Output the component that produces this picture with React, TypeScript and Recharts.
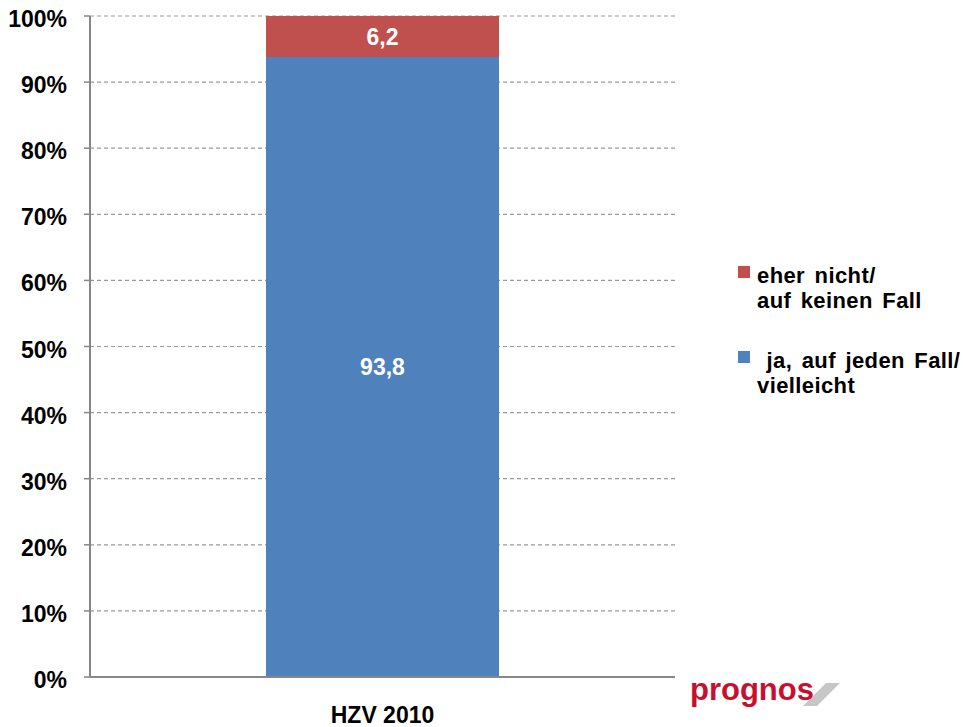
import React from "react";
import { BarChart, Bar, XAxis, YAxis, CartesianGrid, LabelList, Legend } from "recharts";

const categories = ["HZV 2010"];
const jaValues = [93.8];
const neinValues = [6.2];
const yTicks = [0, 10, 20, 30, 40, 50, 60, 70, 80, 90, 100];

const seriesNames = {
  nein: ["eher nicht/", "auf keinen Fall"],
  ja: [" ja, auf jeden Fall/", "vielleicht"],
};

const BLUE = "#4F81BD";
const RED = "#C0504D";
const FONT = "'Liberation Sans', Arial, sans-serif";

const data = categories.map((c, i) => ({ name: c, ja: jaValues[i], nein: neinValues[i] }));

const fmt = (v: any) => String(v).replace(".", ",");

const YTick = (props: any) => {
  const { x, y, payload } = props;
  return (
    <text x={x} y={y} dy={11} textAnchor="end" fontFamily={FONT} fontWeight="bold" fontSize={23} fill="#000">
      {payload.value}%
    </text>
  );
};

const XTick = (props: any) => {
  const { x, y, payload } = props;
  return (
    <text x={x} y={y} dy={46} textAnchor="middle" fontFamily={FONT} fontWeight="bold" fontSize={23} fill="#000">
      {payload.value}
    </text>
  );
};

const legendItems = [
  { color: RED, lines: seriesNames.nein },
  { color: BLUE, lines: seriesNames.ja },
];

const LegendBox = () => (
  <div style={{ fontFamily: FONT, fontWeight: "bold", fontSize: 22, lineHeight: "25px", color: "#000" }}>
    {legendItems.map((it, i) => (
      <div key={i} style={{ position: "relative", paddingLeft: 19, marginBottom: i === 0 ? 35 : 0 }}>
        <div style={{ position: "absolute", left: 0, top: 3, width: 12, height: 12, background: it.color }} />
        {it.lines.map((l, j) => (
          <div key={j} style={{ whiteSpace: "pre", letterSpacing: 0.4, wordSpacing: 3 }}>{l}</div>
        ))}
      </div>
    ))}
  </div>
);

export default function App() {
  return (
    <div style={{ position: "absolute", left: 0, top: 0, width: 963, height: 727, background: "#fff" }}>
      <BarChart
        width={963}
        height={727}
        data={data}
        margin={{ top: 16, right: 288, left: 0, bottom: 0 }}
        barSize={233}
      >
        <CartesianGrid vertical={false} stroke="#9a9a9a" strokeDasharray="4 3" strokeWidth={1.2} />
        <XAxis
          dataKey="name"
          height={50}
          tickLine={false}
          tickSize={0}
          tickMargin={0}
          axisLine={{ stroke: "#878787", strokeWidth: 2 }}
          tick={<XTick />}
          interval={0}
        />
        <YAxis
          yAxisId={0}
          width={90}
          domain={[0, 100]}
          ticks={yTicks}
          interval={0}
          tickSize={6}
          tickMargin={17}
          axisLine={{ stroke: "#878787", strokeWidth: 2 }}
          tickLine={{ stroke: "#878787", strokeWidth: 1.5 }}
          tick={<YTick />}
        />
        <YAxis
          yAxisId="r"
          orientation="right"
          width={0}
          domain={[0, 100]}
          tick={false}
          tickLine={false}
          axisLine={{ stroke: "#b5b5b5", strokeWidth: 2 }}
        />
        <Legend
          layout="horizontal"
          verticalAlign="middle"
          align="center"
          wrapperStyle={{ position: "absolute", left: 738, top: 263, width: 225 }}
          content={() => <LegendBox />}
        />
        <Bar dataKey="ja" stackId="a" fill={BLUE} isAnimationActive={false}>
          <LabelList dataKey="ja" position="center" formatter={fmt} fill="#fff" fontFamily={FONT} fontWeight="bold" fontSize={23} />
        </Bar>
        <Bar dataKey="nein" stackId="a" fill={RED} isAnimationActive={false}>
          <LabelList dataKey="nein" position="center" formatter={fmt} fill="#fff" fontFamily={FONT} fontWeight="bold" fontSize={23} />
        </Bar>
      </BarChart>
      <svg style={{ position: "absolute", left: 0, top: 0, pointerEvents: "none" }} width={963} height={727}>
        <polygon points="803,706 817,706 840,683 826,683" fill="#c6c6c6" />
        <text x={690} y={700} fontFamily={FONT} fontWeight="bold" fontSize={31} fill="#c8102e">
          prognos
        </text>
      </svg>
    </div>
  );
}
